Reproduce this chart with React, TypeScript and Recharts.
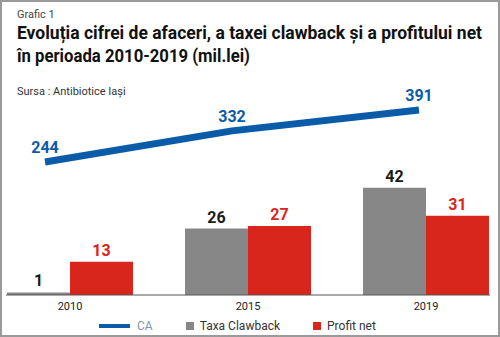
import React from 'react';
import {
  ComposedChart,
  Bar,
  Line,
  XAxis,
  YAxis,
  LabelList,
  Legend
} from 'recharts';

// values (mil. lei)
const years = ['2010', '2015', '2019'];
const caValues = [244, 332, 391];
const clawbackValues = [1, 26, 42];
const profitValues = [13, 27, 31];

const seriesNames = ['CA', 'Taxa Clawback', 'Profit net'];

const BLUE = '#0b5ca8';
const GRAY = '#878787';
const RED = '#d9261c';

const data = years.map((year, i) => ({
  idx: i,
  year,
  ca: caValues[i],
  clawback: clawbackValues[i],
  profit: profitValues[i]
}));

const FONT = 'Roboto, "Open Sans", sans-serif';

const renderLegend = () => {
  const items = [
    { name: seriesNames[0], color: BLUE, kind: 'line', textColor: '#8294aa' },
    { name: seriesNames[1], color: GRAY, kind: 'square', textColor: '#333' },
    { name: seriesNames[2], color: RED, kind: 'square', textColor: '#333' }
  ];
  return (
    <div style={{ display: 'flex', alignItems: 'center', height: 22, paddingLeft: 93, fontFamily: FONT, fontSize: 12 }}>
      {items.map((it) => (
        <div key={it.name} style={{ display: 'flex', alignItems: 'center', marginRight: 33 }}>
          {it.kind === 'line' ? (
            <span style={{ display: 'inline-block', width: 31, height: 4, background: it.color, marginRight: 7 }} />
          ) : (
            <span style={{ display: 'inline-block', width: 8, height: 8, background: it.color, marginRight: 6 }} />
          )}
          <span style={{ color: it.textColor, lineHeight: '12px' }}>{it.name}</span>
        </div>
      ))}
    </div>
  );
};

export default function App() {
  return (
    <div style={{ position: 'absolute', left: 0, top: 0, width: 500, height: 337, background: '#fff', overflow: 'hidden' }}>
      {/* header texts */}
      <svg width={500} height={100} style={{ position: 'absolute', left: 0, top: 0 }}>
        <text x={17} y={17.7} fontFamily={FONT} fontSize={11} fill="#444">Grafic 1</text>
        <text x={17} y={39.3} fontFamily={FONT} fontSize={18} fontWeight={700} fill="#111"
          textLength={465} lengthAdjust="spacingAndGlyphs">
          Evoluția cifrei de afaceri, a taxei clawback și a profitului net
        </text>
        <text x={17} y={61.7} fontFamily={FONT} fontSize={18} fontWeight={700} fill="#111"
          textLength={233} lengthAdjust="spacingAndGlyphs">
          în perioada 2010-2019 (mil.lei)
        </text>
        <text x={17} y={94.7} fontFamily={FONT} fontSize={11} fill="#333">Sursa : Antibiotice Iași</text>
      </svg>

      <div style={{ position: 'absolute', left: 0, top: 0 }}>
        <ComposedChart
          width={500}
          height={337}
          data={data}
          margin={{ top: 100, right: 10, left: 6, bottom: 0 }}
          barGap={0}
        >
          <XAxis
            xAxisId="bar"
            dataKey="idx"
            type="number"
            domain={[-0.3596, 2.3596]}
            ticks={[0, 1, 2]}
            tickFormatter={(v: number) => years[v]}
            height={20}
            tickLine={false}
            tickMargin={1}
            axisLine={{ stroke: '#555', strokeWidth: 1 }}
            tick={{ fontSize: 11, fill: '#222', fontFamily: FONT }}
          />
          <XAxis xAxisId="line" dataKey="idx" type="number" domain={[-0.2086, 2.3797]} hide />
          <YAxis yAxisId="bar" domain={[0, 76.3]} hide />
          <YAxis yAxisId="line" domain={[-132, 419.3]} hide />
          <Legend verticalAlign="bottom" height={22} content={renderLegend} />

          <Bar xAxisId="bar" yAxisId="bar" name={seriesNames[1]} dataKey="clawback" fill={GRAY} barSize={63} isAnimationActive={false}>
            <LabelList dataKey="clawback" position="top" offset={6} fill="#1a1a1a" fontSize={16} fontWeight={700} fontFamily={FONT} />
          </Bar>
          <Bar xAxisId="bar" yAxisId="bar" name={seriesNames[2]} dataKey="profit" fill={RED} barSize={63} isAnimationActive={false}>
            <LabelList dataKey="profit" position="top" offset={6} fill={RED} fontSize={16} fontWeight={700} fontFamily={FONT} />
          </Bar>
          <Line
            xAxisId="line"
            yAxisId="line"
            name={seriesNames[0]}
            type="linear"
            dataKey="ca"
            stroke={BLUE}
            strokeWidth={7}
            strokeLinecap="butt"
            dot={false}
            activeDot={false}
            isAnimationActive={false}
          >
            <LabelList dataKey="ca" position="top" offset={9} fill={BLUE} fontSize={16} fontWeight={700} fontFamily={FONT} />
          </Line>
        </ComposedChart>
      </div>

      {/* frame */}
      <div style={{ position: 'absolute', left: 0, top: 0, width: 500, height: 337, boxSizing: 'border-box', border: '2px solid #9a9a9a', pointerEvents: 'none' }} />
    </div>
  );
}
